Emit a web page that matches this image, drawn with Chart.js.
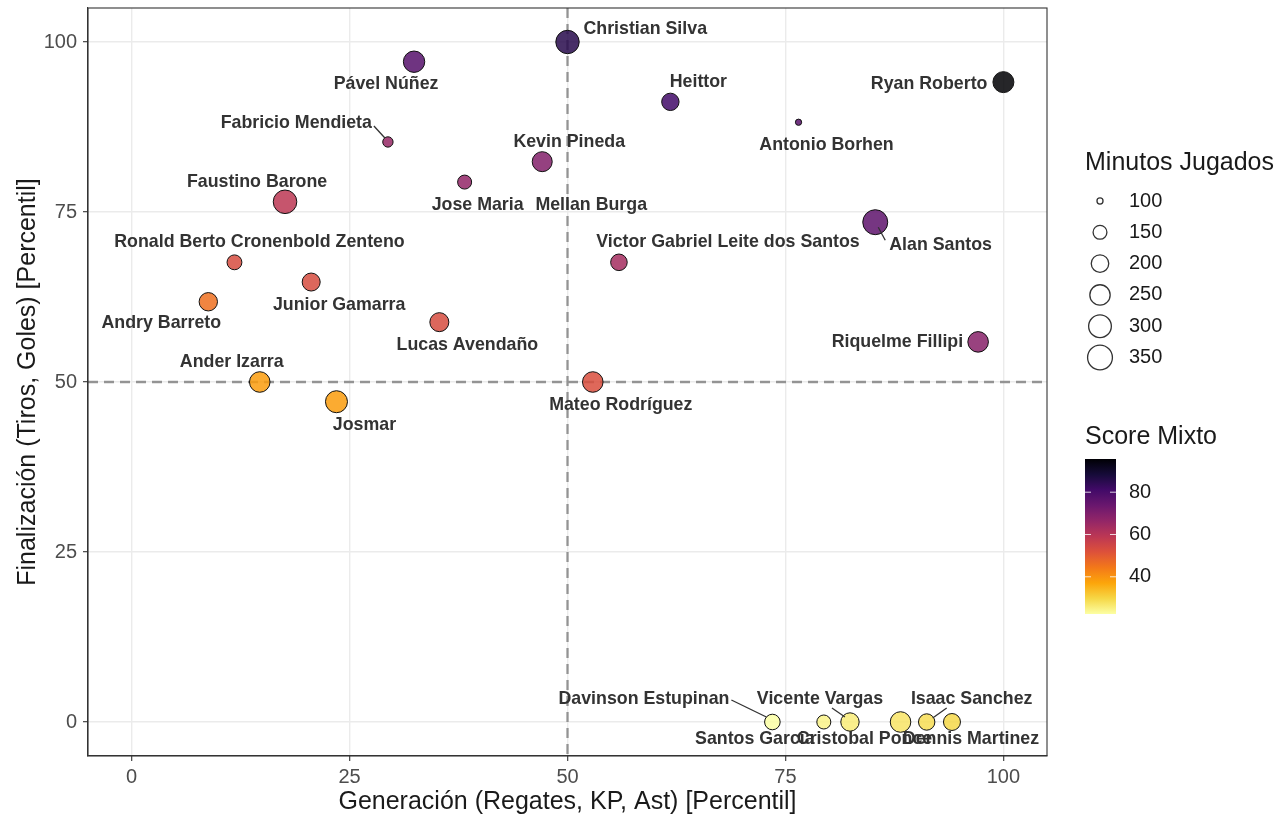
<!DOCTYPE html>
<html>
<head>
<meta charset="utf-8">
<script src="https://cdn.jsdelivr.net/npm/chart.js@4"></script>
<style>
  body { margin: 0; background: #fff; }
</style>
</head>
<body>
<canvas id="grafico" width="1286" height="818"></canvas>
<script>
// datos (percentiles)
const jugadores = [
  'Antonio Borhen', 'Christian Silva', 'Pável Núñez', 'Ryan Roberto', 'Heittor',
  'Fabricio Mendieta', 'Kevin Pineda', 'Jose Maria', 'Faustino Barone', 'Alan Santos',
  'Ronald Berto Cronenbold Zenteno', 'Victor Gabriel Leite dos Santos', 'Junior Gamarra',
  'Andry Barreto', 'Lucas Avendaño', 'Riquelme Fillipi', 'Ander Izarra', 'Mateo Rodríguez',
  'Josmar', 'Davinson Estupinan', 'Santos Garcia', 'Vicente Vargas', 'Cristobal Ponce',
  'Isaac Sanchez', 'Dennis Martinez', 'Mellan Burga'
];
const generacion = [76.5, 50.0, 32.4, 100.0, 61.8, 29.4, 47.1, 38.2, 17.6, 85.3,
  11.8, 55.9, 20.6, 8.8, 35.3, 97.1, 14.7, 52.9, 23.5, 73.5, 79.4, 82.4, 88.2, 91.2, 94.1, 47.1];
const finalizacion = [88.2, 100.0, 97.1, 94.1, 91.2, 85.3, 82.4, 79.4, 76.5, 73.5,
  67.6, 67.6, 64.7, 61.8, 58.8, 55.9, 50.0, 50.0, 47.1, 0, 0, 0, 0, 0, 0, 82.4];
// Mellan Burga sin minutos: solo aparece su etiqueta
const minutos = [100, 311, 267, 259, 195, 117, 240, 150, 315, 349,
  160, 183, 205, 211, 222, 251, 251, 251, 280, 169, 150, 211, 251, 180, 189, null];
const scoreMixto = [77.0, 85.4, 77.4, 95.7, 81.0, 65.6, 69.5, 66.4, 59.0, 75.9,
  53.2, 63.4, 53.2, 45.9, 53.2, 68.6, 38.5, 52.5, 38.5, 22.4, 24.6, 25.8, 27.3, 28.6, 29.5, 69.0];
const ticksEjes = [0, 25, 50, 75, 100];
const ticksMinutos = [100, 150, 200, 250, 300, 350];
const ticksScore = [40, 60, 80];

// colocacion de las etiquetas (px respecto al punto), al estilo ggrepel
const etiquetaDx = [28, 16, -28, -16, 28, -16, 27, 13, -28, 14,
  25, 109, 28, -47, 28, -15, -28, 28, 28, -43, -69, -30, -36, 45, 19, 49];
const etiquetaDy = [23, -13, 22, 2, -20, -19, -20, 23, -20, 23,
  -20, -20, 23, 21, 23, 0, -20, 23, 23, -23, 17, -23, 17, -23, 17, 43];
const etiquetaAlign = ['center', 'left', 'center', 'right', 'center', 'right', 'center', 'center', 'center', 'left',
  'center', 'center', 'center', 'center', 'center', 'right', 'center', 'center', 'center', 'right',
  'center', 'center', 'center', 'center', 'center', 'center'];
const guias = {
  'Fabricio Mendieta': [-14, -16, -3, -4],
  'Alan Santos': [3, 5, 10, 18],
  'Davinson Estupinan': [-41, -22, -6, -5],
  'Vicente Vargas': [-18, -14, -5, -5],
  'Isaac Sanchez': [20, -14, 6, -4]
};

const fuente = '"Liberation Sans", Arial, Helvetica, sans-serif';

const inferno = ['#000004', '#160b39', '#420a68', '#6a176e', '#932667', '#bc3754',
  '#dd513a', '#f37819', '#fca50a', '#f6d746', '#fcffa4'];

function hexRgb(h) {
  return [parseInt(h.slice(1, 3), 16), parseInt(h.slice(3, 5), 16), parseInt(h.slice(5, 7), 16)];
}

function colorInferno(t, alpha) {
  t = Math.min(1, Math.max(0, t));
  const p = t * (inferno.length - 1);
  const i = Math.min(inferno.length - 2, Math.floor(p));
  const f = p - i;
  const a = hexRgb(inferno[i]), b = hexRgb(inferno[i + 1]);
  const c = a.map((v, k) => Math.round(v + (b[k] - v) * f));
  return 'rgba(' + c[0] + ',' + c[1] + ',' + c[2] + ',' + alpha + ')';
}

const sMin = Math.min(...scoreMixto);
const sMax = Math.max(...scoreMixto);

// escala invertida: score alto = oscuro
function colorScore(s, alpha) {
  return colorInferno(1 - (s - sMin) / (sMax - sMin), alpha);
}

function radio(m) {
  if (m == null) return 0;
  return 3.0 + 0.632 * Math.sqrt(Math.max(0, m - 99));
}

const puntos = generacion.map((x, i) => ({ x: x, y: finalizacion[i] }));

const lineasCorte = {
  id: 'lineasCorte',
  beforeDatasetsDraw(chart) {
    const { ctx, chartArea: a, scales } = chart;
    const px = scales.x.getPixelForValue(50);
    const py = scales.y.getPixelForValue(50);
    ctx.save();
    ctx.strokeStyle = 'rgba(125,125,125,0.8)';
    ctx.lineWidth = 2.3;
    ctx.setLineDash([10, 6]);
    ctx.beginPath();
    ctx.moveTo(px, a.top); ctx.lineTo(px, a.bottom);
    ctx.moveTo(a.left, py); ctx.lineTo(a.right, py);
    ctx.stroke();
    ctx.restore();
  }
};

const etiquetas = {
  id: 'etiquetas',
  afterDatasetsDraw(chart) {
    const { ctx, chartArea: a } = chart;
    const meta = chart.getDatasetMeta(0);
    ctx.save();
    // guias
    ctx.strokeStyle = '#333';
    ctx.lineWidth = 1.3;
    jugadores.forEach((n, i) => {
      const g = guias[n];
      if (!g) return;
      const el = meta.data[i];
      ctx.beginPath();
      ctx.moveTo(el.x + g[0], el.y + g[1]);
      ctx.lineTo(el.x + g[2], el.y + g[3]);
      ctx.stroke();
    });
    ctx.font = 'bold 17.8px ' + fuente;
    ctx.fillStyle = '#333';
    ctx.textBaseline = 'middle';
    jugadores.forEach((n, i) => {
      const el = meta.data[i];
      ctx.textAlign = etiquetaAlign[i];
      ctx.fillText(n, el.x + etiquetaDx[i], el.y + etiquetaDy[i]);
    });
    // borde del panel
    ctx.strokeStyle = '#333';
    ctx.lineWidth = 1.1;
    ctx.strokeRect(a.left, a.top, a.right - a.left, a.bottom - a.top);
    ctx.restore();
  }
};

const leyenda = {
  id: 'leyenda',
  afterDraw(chart) {
    const { ctx, chartArea: a } = chart;
    ctx.save();
    ctx.fillStyle = '#1a1a1a';
    ctx.textBaseline = 'middle';
    // titulos de ejes
    ctx.font = '25px ' + fuente;
    ctx.textAlign = 'center';
    ctx.fillText('Generación (Regates, KP, Ast) [Percentil]', (a.left + a.right) / 2, 802);
    ctx.save();
    ctx.translate(28, (a.top + a.bottom) / 2);
    ctx.rotate(-Math.PI / 2);
    ctx.fillText('Finalización (Tiros, Goles) [Percentil]', 0, 0);
    ctx.restore();

    // tamaño
    ctx.textAlign = 'left';
    ctx.fillText('Minutos Jugados', 1085, 163);
    ctx.font = '20px ' + fuente;
    ticksMinutos.forEach((m, i) => {
      const y = 201 + i * 31.3;
      ctx.beginPath();
      ctx.arc(1100, y, radio(m) - 0.6, 0, Math.PI * 2);
      ctx.strokeStyle = '#333';
      ctx.lineWidth = 1.3;
      ctx.stroke();
      ctx.fillStyle = '#1a1a1a';
      ctx.fillText(String(m), 1129, y);
    });

    // barra de color
    ctx.font = '25px ' + fuente;
    ctx.fillText('Score Mixto', 1085, 437);
    const bx = 1085, bw = 31, by = 459, bh = 155;
    const grad = ctx.createLinearGradient(0, by, 0, by + bh);
    for (let k = 0; k <= 20; k++) {
      grad.addColorStop(k / 20, colorInferno(k / 20, 1));
    }
    ctx.fillStyle = grad;
    ctx.fillRect(bx, by, bw, bh);
    ctx.font = '20px ' + fuente;
    ticksScore.forEach(v => {
      const y = by + (sMax - v) / (sMax - sMin) * bh;
      ctx.strokeStyle = 'rgba(255,255,255,0.8)';
      ctx.lineWidth = 1;
      ctx.beginPath();
      ctx.moveTo(bx, y); ctx.lineTo(bx + 6, y);
      ctx.moveTo(bx + bw - 6, y); ctx.lineTo(bx + bw, y);
      ctx.stroke();
      ctx.fillStyle = '#1a1a1a';
      ctx.fillText(String(v), 1129, y);
    });
    ctx.restore();
  }
};

const ejeBase = {
  type: 'linear',
  min: -5,
  max: 105,
  afterBuildTicks: s => { s.ticks = ticksEjes.map(v => ({ value: v })); },
  grid: { color: '#ebebeb', lineWidth: 1.4, drawTicks: true, tickColor: '#333', tickLength: 5, tickWidth: 1.1 },
  border: { display: true, color: '#333', width: 1.1 },
  ticks: { color: '#4d4d4d', font: { size: 20, family: fuente }, maxRotation: 0 }
};

new Chart(document.getElementById('grafico').getContext('2d'), {
  type: 'scatter',
  data: {
    datasets: [{
      data: puntos,
      pointRadius: ctx => Math.max(0, radio(minutos[ctx.dataIndex]) - 0.5),
      pointHoverRadius: ctx => Math.max(0, radio(minutos[ctx.dataIndex]) - 0.5),
      backgroundColor: ctx => colorScore(scoreMixto[ctx.dataIndex], 0.85),
      borderColor: '#111',
      borderWidth: ctx => minutos[ctx.dataIndex] == null ? 0 : 1
    }]
  },
  options: {
    responsive: false,
    devicePixelRatio: 1,
    animation: false,
    layout: { autoPadding: false, padding: { left: 0, top: 8, right: 239, bottom: 0 } },
    plugins: {
      legend: { display: false },
      tooltip: { enabled: false }
    },
    scales: {
      x: Object.assign({}, ejeBase, {
        afterFit: s => { s.height = 62; s.paddingLeft = 0; s.paddingRight = 0; },
        ticks: Object.assign({}, ejeBase.ticks, { padding: 4 })
      }),
      y: Object.assign({}, ejeBase, {
        afterFit: s => { s.width = 88; s.paddingTop = 0; s.paddingBottom = 0; },
        ticks: Object.assign({}, ejeBase.ticks, { padding: 6 })
      })
    }
  },
  plugins: [lineasCorte, etiquetas, leyenda]
});
</script>
</body>
</html>
